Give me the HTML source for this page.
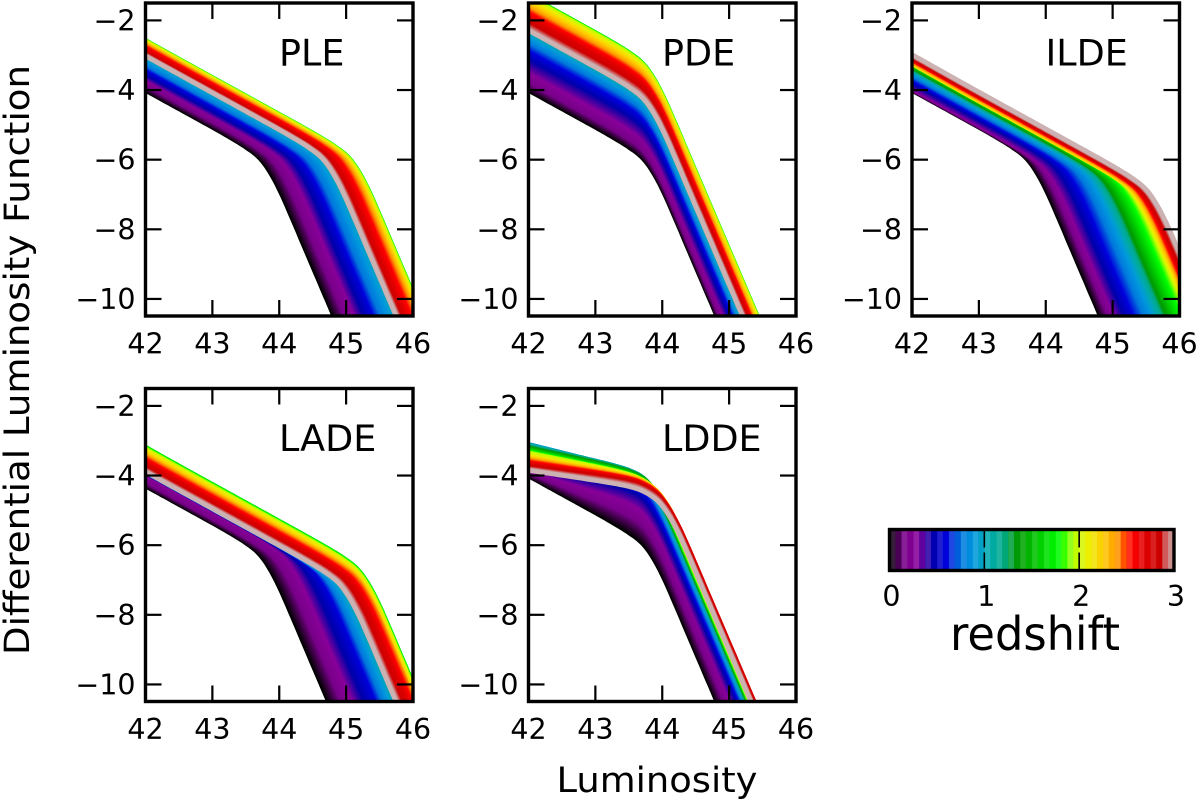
<!DOCTYPE html>
<html lang="en">
<head>
<meta charset="utf-8">
<title>Differential Luminosity Function by model</title>
<style>
html,body{margin:0;padding:0;background:#fff;overflow:hidden;}
svg{display:block;}
text{font-family:"DejaVu Sans","Liberation Sans",sans-serif;fill:#000;}
</style>
</head>
<body>
<svg id="chart" xmlns="http://www.w3.org/2000/svg" width="1200" height="803" viewBox="0 0 1200 803">
  <rect x="0" y="0" width="1200" height="803" fill="#fff"/>
  <text transform="translate(29,360) rotate(-90)" text-anchor="middle" font-size="35" textLength="590" lengthAdjust="spacingAndGlyphs">Differential Luminosity Function</text>
  <text x="657" y="792" text-anchor="middle" font-size="35" textLength="201" lengthAdjust="spacingAndGlyphs">Luminosity</text>
  <g id="panels"></g>
  <g id="colorbar"></g>
  <text x="1035" y="650" text-anchor="middle" font-size="46" textLength="170" lengthAdjust="spacingAndGlyphs">redshift</text>
</svg>
<script>
// ---- data ----
const xTicks = [42, 43, 44, 45, 46];
const yTicks = [-2, -4, -6, -8, -10];
const colorbarTicks = [0, 1, 2, 3];

// z = 0 curve of the luminosity function
const baseLum = [39, 40, 41, 42, 43, 43.3, 43.5, 43.7, 43.85, 44, 44.15, 44.4, 44.8, 45, 46, 48];
const basePhi = [-0.79, -1.87, -2.95, -4.01, -5.07, -5.40, -5.64, -5.94, -6.32, -6.85, -7.49, -8.62, -10.42, -11.32, -15.82, -24.82];

// redshifts at which each model's evolution was read
const zStops = [0, 0.15, 0.3, 0.45, 0.6, 0.75, 0.9, 1.05, 1.35, 1.65, 1.95, 2.1, 2.25, 2.4, 2.55, 2.7, 2.85, 3];

const pleLumShift = [0, 0.17, 0.33, 0.47, 0.62, 0.72, 0.86, 0.98, 1.15, 1.32, 1.31, 1.28, 1.25, 1.21, 1.14, 1.05, 0.98, 0.93];
const plePhiShift = [0, 0, 0, 0, 0, 0, 0, 0, 0.01, 0.03, 0.02, 0.01, 0, 0, 0, 0, 0, 0];
const pleTilt     = [0, 0, 0, 0, 0, 0, 0, 0, 0, 0, 0, 0, 0, 0, 0, 0, 0, 0];

const pdeLumShift = [0, 0, 0, 0, 0, 0, 0, 0, 0, 0, 0, 0, 0, 0, 0, 0, 0, 0];
const pdePhiShift = [0, 0.25, 0.55, 0.93, 1.2, 1.4, 1.58, 1.75, 2.0, 2.72, 2.68, 2.58, 2.46, 2.33, 2.2, 2.05, 1.88, 1.72];
const pdeTilt     = [0, 0, 0, 0, 0, 0, 0, 0, 0, 0, 0, 0, 0, 0, 0, 0, 0, 0];

const ildeLumShift = [0, 0.16, 0.27, 0.42, 0.58, 0.74, 0.89, 1.0, 1.13, 1.30, 1.50, 1.56, 1.59, 1.62, 1.66, 1.69, 1.74, 1.78];
const ildePhiShift = [0, -0.13, -0.22, -0.20, -0.27, -0.34, -0.41, -0.46, -0.52, -0.60, -0.79, -0.90, -0.89, -0.88, -0.88, -0.88, -0.885, -0.87];
const ildeTilt     = [0, 0, 0, 0, 0, 0, 0, 0, 0, 0, 0, 0, 0, 0, 0, 0, 0, 0];

const ladeLumShift = [-0.02, 0.2, 0.369, 0.583, 0.832, 0.948, 1.078, 1.185, 1.323, 1.46, 1.45, 1.44, 1.42, 1.425, 1.375, 1.316, 1.236, 1.18];
const ladePhiShift = [-0.27, -0.362, -0.311, -0.508, -0.772, -0.89, -1.027, -1.056, -1.0, -0.73, -0.78, -0.83, -0.90, -0.965, -1.015, -1.065, -1.105, -1.135];
const ladeTilt     = [0, 0, 0, 0, 0, 0, 0, 0, 0, 0, 0, 0, 0, 0, 0, 0, 0, 0];

const lddeLumShift = [0, 0, 0, 0, 0, 0, 0, 0.025, 0.065, 0.11, 0.13, 0.174, 0.208, 0.217, 0.22, 0.252, 0.237, 0.237];
const lddePhiShift = [0, 0.55, 1.0, 1.4, 1.62, 1.8, 1.89, 1.913, 1.82, 1.70, 1.672, 1.602, 1.54, 1.5, 1.467, 1.383, 1.344, 1.229];
const lddeTilt     = [0, 0.25, 0.47, 0.647, 0.63, 0.62, 0.576, 0.63, 0.64, 0.653, 0.68, 0.72, 0.74, 0.753, 0.776, 0.788, 0.8, 0.776];

// colormap samples, evenly spaced from redshift 0 to 3
const cmapR = [0, 0.4667, 0.5333, 0, 0, 0, 0, 0, 0, 0, 0, 0, 0, 0.7333, 0.9333, 1, 1, 1, 0.8667, 0.8, 0.80];
const cmapG = [0, 0, 0, 0, 0, 0.4667, 0.6, 0.6667, 0.6667, 0.6, 0.7333, 0.8667, 1, 1, 0.9333, 0.8, 0.6, 0, 0, 0, 0.70];
const cmapB = [0, 0.5333, 0.6, 0.6667, 0.8667, 0.8667, 0.8667, 0.6667, 0.5333, 0, 0, 0, 0, 0, 0, 0, 0, 0, 0, 0, 0.70];

// ---- layout and scales ----
const NS = 'http://www.w3.org/2000/svg';
const panelWidth = 267.5;
const panelHeight = 313;
const xMin = 42, xMax = 46, yTop = -1.5, yBottom = -10.49;
const curveCount = 120;
const curveWidth = 4.6;
const tiltPivot = 43.7;
const tickFont = 28.5;

const panels = [
  {name: 'PLE',  slug: 'ple',  left: 145.5, top: 3,     lum: pleLumShift,  phi: plePhiShift,  tilt: pleTilt},
  {name: 'PDE',  slug: 'pde',  left: 528.5, top: 3,     lum: pdeLumShift,  phi: pdePhiShift,  tilt: pdeTilt},
  {name: 'ILDE', slug: 'ilde', left: 912,   top: 3,     lum: ildeLumShift, phi: ildePhiShift, tilt: ildeTilt},
  {name: 'LADE', slug: 'lade', left: 145.5, top: 388.5, lum: ladeLumShift, phi: ladePhiShift, tilt: ladeTilt},
  {name: 'LDDE', slug: 'ldde', left: 528.5, top: 388.5, lum: lddeLumShift, phi: lddePhiShift, tilt: lddeTilt}
];

function make(tag, attrs, parent) {
  const el = document.createElementNS(NS, tag);
  for (const k in attrs) el.setAttribute(k, attrs[k]);
  if (parent) parent.appendChild(el);
  return el;
}

function lerpTable(xs, ys, x) {
  if (x <= xs[0]) return ys[0];
  for (let i = 1; i < xs.length; i++) {
    if (x <= xs[i]) {
      const t = (x - xs[i - 1]) / (xs[i] - xs[i - 1]);
      return ys[i - 1] + t * (ys[i] - ys[i - 1]);
    }
  }
  return ys[ys.length - 1];
}

// smooth interpolation through the base curve samples
function slopeAt(i) {
  const a = Math.max(0, i - 1), b = Math.min(baseLum.length - 1, i + 1);
  return (basePhi[b] - basePhi[a]) / (baseLum[b] - baseLum[a]);
}
function baseCurve(x) {
  const n = baseLum.length;
  if (x <= baseLum[0]) return basePhi[0] + slopeAt(0) * (x - baseLum[0]);
  if (x >= baseLum[n - 1]) return basePhi[n - 1] + slopeAt(n - 1) * (x - baseLum[n - 1]);
  let i = 1;
  while (x > baseLum[i]) i++;
  const h = baseLum[i] - baseLum[i - 1];
  const t = (x - baseLum[i - 1]) / h;
  const t2 = t * t, t3 = t2 * t;
  return (2 * t3 - 3 * t2 + 1) * basePhi[i - 1] + (t3 - 2 * t2 + t) * h * slopeAt(i - 1) +
         (-2 * t3 + 3 * t2) * basePhi[i] + (t3 - t2) * h * slopeAt(i);
}

function softPositive(u) {
  return 0.5 * (u + Math.sqrt(u * u + 0.04));
}

function redshiftColor(z) {
  const pos = Math.min(0.99999, Math.max(0, z / 3)) * (cmapR.length - 1);
  const i = Math.floor(pos), t = pos - i;
  const mix = (arr) => Math.round(255 * (arr[i] + t * (arr[i + 1] - arr[i])));
  return 'rgb(' + mix(cmapR) + ',' + mix(cmapG) + ',' + mix(cmapB) + ')';
}

const panelRoot = document.getElementById('panels');

panels.forEach(function (p) {
  const sx = (v) => p.left + (v - xMin) / (xMax - xMin) * panelWidth;
  const sy = (v) => p.top + (v - yTop) / (yBottom - yTop) * panelHeight;

  const g = make('g', {}, panelRoot);
  
  

  const clip = make('clipPath', {id: 'clip-' + p.slug}, g);
  make('rect', {x: p.left, y: p.top, width: panelWidth, height: panelHeight}, clip);

  const curves = make('g', {'clip-path': 'url(#clip-' + p.slug + ')'}, g);
  
  

  for (let c = 0; c <= curveCount; c++) {
    const z = 3 * c / curveCount;
    const dL = lerpTable(zStops, p.lum, z);
    const dP = lerpTable(zStops, p.phi, z);
    const tl = lerpTable(zStops, p.tilt, z);
    let d = '';
    for (let x = xMin - 0.08; x <= xMax + 0.08; x += 0.04) {
      const y = baseCurve(x - dL) + dP - tl * softPositive(tiltPivot - x);
      d += (d ? 'L' : 'M') + sx(x).toFixed(1) + ' ' + sy(y).toFixed(1);
      if (y < yBottom - 0.1) break;
    }
    const path = make('path', {d: d, fill: 'none', stroke: redshiftColor(z), 'stroke-width': curveWidth, 'stroke-linejoin': 'round'}, curves);
    
    
  }

  xTicks.forEach(function (t) {
    const x = sx(t);
    const bottomMark = make('line', {x1: x, x2: x, y1: p.top + panelHeight, y2: p.top + panelHeight - 16, stroke: '#000', 'stroke-width': 2.2}, g);
    
    
    const topMark = make('line', {x1: x, x2: x, y1: p.top, y2: p.top + 16, stroke: '#000', 'stroke-width': 2.2}, g);
    
    
    const label = make('text', {x: x, y: p.top + panelHeight + 37.5, 'text-anchor': 'middle', 'font-size': tickFont}, g);
    label.textContent = String(t);
    
    
  });

  yTicks.forEach(function (t) {
    const y = sy(t);
    const leftMark = make('line', {x1: p.left, x2: p.left + 16, y1: y, y2: y, stroke: '#000', 'stroke-width': 2.2}, g);
    
    
    const rightMark = make('line', {x1: p.left + panelWidth, x2: p.left + panelWidth - 16, y1: y, y2: y, stroke: '#000', 'stroke-width': 2.2}, g);
    
    
    const label = make('text', {x: p.left - 10, y: y + 10, 'text-anchor': 'end', 'font-size': tickFont}, g);
    label.textContent = '\u2212' + Math.abs(t);
    
    
  });

  const frame = make('rect', {x: p.left, y: p.top, width: panelWidth, height: panelHeight, fill: 'none', stroke: '#000', 'stroke-width': 3.4}, g);
  
  

  const title = make('text', {x: p.left + 133.5, y: p.top + 62.5, 'font-size': 36.5}, g);
  title.textContent = p.name;
  
  
});

// ---- colour bar ----
const barRoot = document.getElementById('colorbar');
const barLeft = 889.5, barWidth = 284.5, barTop = 529.5, barHeight = 41;
const barStrips = 48;
const barX = (z) => barLeft + z / 3 * barWidth;

for (let i = 0; i < barStrips; i++) {
  const z0 = 3 * i / barStrips, z1 = 3 * (i + 1) / barStrips;
  const strip = make('rect', {x: barX(z0), y: barTop, width: barX(z1) - barX(z0) + 0.4, height: barHeight, fill: redshiftColor((z0 + z1) / 2), 'fill-opacity': i % 2 ? 1 : 0.88}, barRoot);
  
  
}

colorbarTicks.forEach(function (t) {
  const x = barX(t);
  if (t > 0 && t < 3) {
    const upper = make('line', {x1: x, x2: x, y1: barTop, y2: barTop + 18, stroke: '#000', 'stroke-width': 1.6}, barRoot);
    
    
    const lower = make('line', {x1: x, x2: x, y1: barTop + barHeight, y2: barTop + barHeight - 18, stroke: '#000', 'stroke-width': 1.6}, barRoot);
    
    
  }
  const label = make('text', {x: x + 2, y: 606, 'text-anchor': 'middle', 'font-size': tickFont}, barRoot);
  label.textContent = String(t);
  
  
});

const barFrame = make('rect', {x: barLeft, y: barTop, width: barWidth, height: barHeight, fill: 'none', stroke: '#000', 'stroke-width': 3.4}, barRoot);


</script>
</body>
</html>
